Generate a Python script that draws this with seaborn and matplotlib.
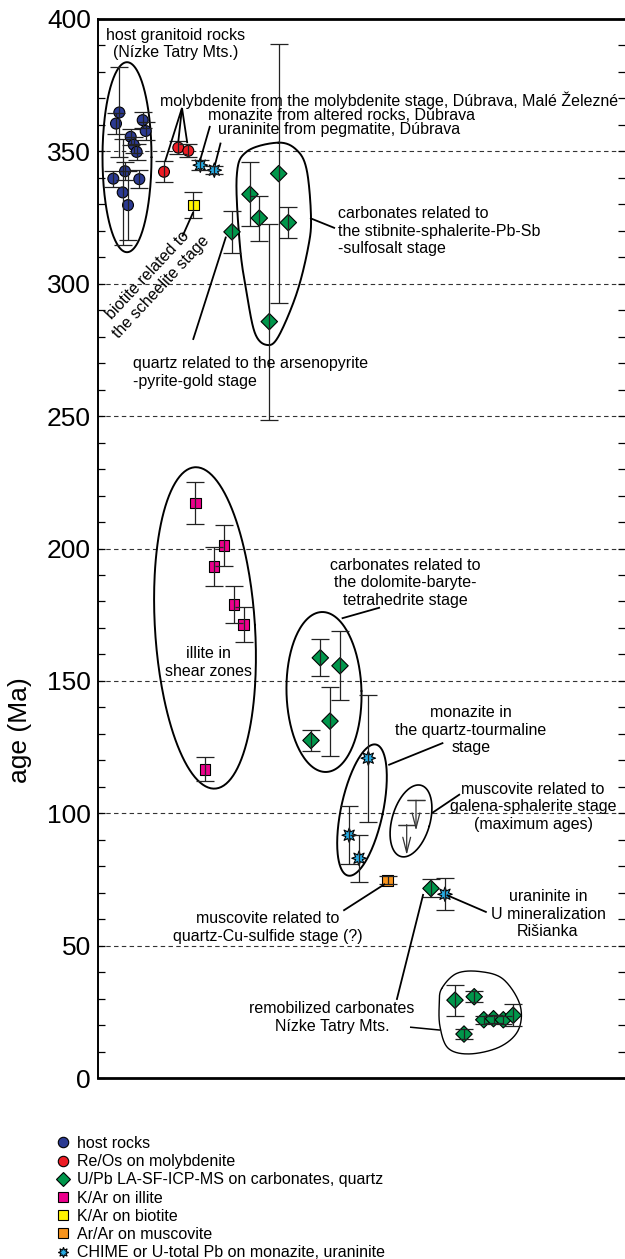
import numpy as np
import pandas as pd
import matplotlib
matplotlib.use("Agg")
import matplotlib.pyplot as plt
from matplotlib.patches import ArrowStyle
import seaborn as sns

# ---------------------------------------------------------------------------
# Ages (Ma) with uncertainties; *_x is the horizontal placement of each analysis
# ---------------------------------------------------------------------------
host_x = [15.3, 18.0, 21.3, 27.0, 24.7, 30.0, 32.7, 35.7, 38.7, 41.3, 44.7, 47.7]
host_age = [339.7, 360.5, 364.7, 342.5, 334.5, 329.7, 355.5, 352.5, 349.8, 339.5, 361.8, 357.7]
host_err = [3, 4, 17, 3.5, 20, 13, 3, 3, 3, 3.5, 3, 3.5]

reos_x = [66.0, 80.3, 90.3]
reos_age = [342.3, 351.4, 350.2]
reos_err = [4, 2.5, 2.5]

upb_x = [134, 152, 161.3, 180.7, 190.3, 171.3, 222.3, 242, 232, 213,
         333, 357, 376.2, 366, 385.8, 395.5, 405.3, 415.2]
upb_age = [319.6, 333.8, 324.8, 341.6, 323.1, 285.7, 158.7, 155.7, 134.8, 127.5,
           71.6, 29.4, 30.7, 16.6, 22.0, 22.4, 22.0, 23.7]
upb_err = [8, 12, 8.5, 49, 6, 37, 7, 13, 13, 4,
           3.4, 5.8, 2, 1.8, 1.5, 1.5, 1.5, 4.2]

illite_x = [97.3, 126, 116, 136, 145.7, 107]
illite_age = [217.2, 201.1, 193.1, 178.8, 171.3, 116.6]
illite_err = [8, 7.7, 7.3, 7, 6.5, 4.5]

biotite_x = [95.3]
biotite_age = [329.7]
biotite_err = [5]

arar_x = [289.7]
arar_age = [74.7]
arar_err = [1.5]

chime_x = [102.3, 116.3, 270.3, 251.2, 261, 347]
chime_age = [344.8, 342.9, 120.8, 91.7, 83.0, 69.4]
chime_err = [2, 1.5, 24, 11, 8.8, 6]

# muscovite maximum ages (galena-sphalerite stage)
musc_max_x = [318, 308.7]
musc_max_age = [104.9, 95.7]

methods = [
    "host rocks",
    "Re/Os on molybdenite",
    "U/Pb LA-SF-ICP-MS on carbonates, quartz",
    "K/Ar on illite",
    "K/Ar on biotite",
    "Ar/Ar on muscovite",
    "CHIME or U-total Pb on monazite, uraninite",
]
groups = [
    (host_x, host_age, host_err),
    (reos_x, reos_age, reos_err),
    (upb_x, upb_age, upb_err),
    (illite_x, illite_age, illite_err),
    (biotite_x, biotite_age, biotite_err),
    (arar_x, arar_age, arar_err),
    (chime_x, chime_age, chime_err),
]
df = pd.concat(
    [pd.DataFrame({"x": gx, "age": ga, "err": ge, "method": m})
     for m, (gx, ga, ge) in zip(methods, groups)],
    ignore_index=True,
)

palette = {
    methods[0]: "#2b3a92",
    methods[1]: "#ed1c24",
    methods[2]: "#00964b",
    methods[3]: "#ec008c",
    methods[4]: "#fff200",
    methods[5]: "#f7941d",
    methods[6]: "#27aae1",
}
markers = {
    methods[0]: "o",
    methods[1]: "o",
    methods[2]: "D",
    methods[3]: "s",
    methods[4]: "s",
    methods[5]: "s",
    methods[6]: (8, 1, 0),
}
marker_area = {
    methods[0]: 62,
    methods[1]: 62,
    methods[2]: 70,
    methods[3]: 60,
    methods[4]: 60,
    methods[5]: 60,
    methods[6]: 110,
}

sns.set_style("ticks")
plt.rcParams["font.family"] = ["Liberation Sans", "DejaVu Sans"]
plt.rcParams.update({"text.color": "black", "axes.labelcolor": "black",
                     "ytick.color": "black", "xtick.color": "black",
                     "axes.edgecolor": "black"})
FS = 11.5
LS = 1.22

fig = plt.figure(figsize=(6.25, 12.59), dpi=100)
ax = fig.add_axes([98 / 625, 1 - 1078 / 1259, 527 / 625, 1059 / 1259])
ax.set_xlim(0, 527)
ax.set_ylim(0, 400)

# horizontal reference lines
for g in range(50, 400, 50):
    ax.axhline(g, color="#333333", lw=0.8, ls=(0, (4, 3)), zorder=0)

sns.scatterplot(data=df, x="x", y="age", hue="method", style="method", size="method",
                hue_order=methods, style_order=methods, size_order=methods,
                palette=palette, markers=markers, sizes=marker_area,
                edgecolor="black", linewidth=0.8, ax=ax, zorder=2, legend=True)

ax.errorbar(df["x"], df["age"], yerr=df["err"], fmt="none", ecolor="#222222",
            elinewidth=0.9, capsize=6.5, capthick=0.9, zorder=3)

# maximum ages: cap at the age, open arrow pointing to younger ages
ax.errorbar(musc_max_x, musc_max_age, yerr=np.zeros(len(musc_max_x)), fmt="none",
            ecolor="#333333", capsize=6.5, capthick=0.9, zorder=3)
for mx, ma in zip(musc_max_x, musc_max_age):
    ax.annotate("", xy=(mx, ma - 11.5), xytext=(mx, ma),
                arrowprops=dict(arrowstyle=ArrowStyle("->", head_length=1.1, head_width=0.28),
                                color="#333333", lw=0.9, shrinkA=0, shrinkB=0),
                zorder=3)


# ---------------- grouping outlines (drawn in screen space) ----------------
def _to_px(xs, ys):
    return ax.transData.transform(np.column_stack([xs, ys]))


def _from_px(pts):
    return ax.transData.inverted().transform(pts)


def ellipse(cx, cy, w, h, angle=0.0, lw=1.4):
    c = ax.transData.transform((cx, cy))
    t = np.linspace(0, 2 * np.pi, 240)
    a = np.deg2rad(angle)
    ex, ey = w / 2 * np.cos(t), h / 2 * np.sin(t)
    X = c[0] + ex * np.cos(a) - ey * np.sin(a)
    Y = c[1] + ex * np.sin(a) + ey * np.cos(a)
    d = _from_px(np.column_stack([X, Y]))
    ax.plot(d[:, 0], d[:, 1], color="black", lw=lw, zorder=1.5)


def blob(xs, ys, lw=1.4):
    P = _to_px(xs, ys)
    n = len(P)
    segs = []
    t = np.linspace(0, 1, 24, endpoint=False)[:, None]
    for i in range(n):
        p0, p1, p2, p3 = P[i - 1], P[i], P[(i + 1) % n], P[(i + 2) % n]
        segs.append(0.5 * (2 * p1 + (-p0 + p2) * t
                           + (2 * p0 - 5 * p1 + 4 * p2 - p3) * t ** 2
                           + (-p0 + 3 * p1 - 3 * p2 + p3) * t ** 3))
    pts = np.vstack(segs + [segs[0][:1]])
    d = _from_px(pts)
    ax.plot(d[:, 0], d[:, 1], color="black", lw=lw, zorder=1.5)


ellipse(29, 347.8, 49, 190)                 # host granitoids
ellipse(107, 170.0, 100, 322, 3.6)          # illite
ellipse(226, 145.8, 75, 160, 1.5)           # dolomite-baryte-tetrahedrite
ellipse(264, 101.2, 42, 134, -12)           # monazite, quartz-tourmaline
ellipse(313, 97.1, 38, 74, -16, lw=1.2)     # muscovite max ages
blob([180.3, 198.7, 208.7, 213, 210.3, 198.7, 180.3, 168.7, 157, 148.7, 142, 138.7, 148.7],
     [353.3, 350.5, 343.0, 325.3, 314.0, 296.4, 280.0, 276.9, 281.3, 296.4, 314.0, 340.5, 349.9])
blob([343.7, 358.7, 382, 405.3, 422, 420.3, 402, 372, 350.3, 342, 341.3],
     [33.8, 39.5, 40.2, 37.3, 27.6, 18.1, 11.8, 9.1, 11.2, 19.4, 28.2], lw=1.0)

# ---------------- labels and leader lines ----------------
def label(x, y, s, ha="center", **kw):
    ax.text(x, y, s, ha=ha, va="center", fontsize=FS, linespacing=LS,
            multialignment=ha, zorder=4, **kw)


def leader(x0, y0, x1, y1, lw=1.3):
    ax.plot([x0, x1], [y0, y1], color="black", lw=lw, zorder=4,
            solid_capstyle="butt")


label(77.8, 390.5, "host granitoid rocks\n(Nízke Tatry Mts.)")
label(62, 369.4, "molybdenite from the molybdenite stage, Dúbrava, Malé Železné", ha="left")
label(110, 363.7, "monazite from altered rocks, Dúbrava", ha="left")
label(120.3, 358.1, "uraninite from pegmatite, Dúbrava", ha="left")
label(240, 319.9, "carbonates related to\nthe stibnite-sphalerite-Pb-Sb\n-sulfosalt stage", ha="left")
ax.text(56.5, 301, "biotite related to\nthe scheelite stage", rotation=47,
        rotation_mode="anchor", ha="center", va="center", multialignment="center",
        fontsize=FS, linespacing=LS, zorder=4)
label(35, 266.4, "quartz related to the arsenopyrite\n-pyrite-gold stage", ha="left")
label(110.3, 157, "illite in\nshear zones")
label(307, 187, "carbonates related to\nthe dolomite-baryte-\ntetrahedrite stage")
label(373, 131.4, "monazite in\nthe quartz-tourmaline\nstage")
label(435, 102.4, "muscovite related to\ngalena-sphalerite stage\n(maximum ages)")
label(170, 56.8, "muscovite related to\nquartz-Cu-sulfide stage (?)")
label(450, 61.9, "uraninite in\nU mineralization\nRišianka")
label(234, 22.8, "remobilized carbonates\nNízke Tatry Mts.")

for ex, ey in [(67, 346.1), (80.3, 353.7), (89.3, 353.1)]:
    leader(84, 366.4, ex, ey)
leader(112, 359.6, 102, 346.5)
leader(122.7, 353.3, 117, 344.9)
leader(212, 324.8, 237, 321)
leader(95.3, 327.1, 84.3, 317.8)
leader(128, 317.8, 95, 278.8)
leader(243.7, 173.6, 282, 177.7)
leader(290.3, 118.2, 345.3, 126.6)
leader(333.7, 100, 362, 107.2)
leader(245.3, 63.2, 287, 73.3)
leader(348.7, 69.1, 388.7, 62.6)
leader(298.7, 29.5, 325.3, 69.5)
leader(312, 19.2, 342, 18.1, lw=1.1)

# ---------------- axes styling ----------------
ax.set_xticks([])
ax.set_xlabel("")
ax.set_yticks(range(0, 401, 50))
ax.set_yticks(range(0, 401, 10), minor=True)
ax.tick_params(axis="y", which="both", direction="in", left=True, right=True,
               length=5, width=0.9, color="black")
ax.tick_params(axis="y", which="major", labelsize=19, pad=5, labelcolor="black")
ax.set_ylabel("age (Ma)", fontsize=19)
ax.yaxis.set_label_coords(-0.125, 0.3286)
for side in ["top", "bottom"]:
    ax.spines[side].set_linewidth(2.0)
ax.spines["left"].set_linewidth(1.4)
ax.spines["right"].set_visible(False)

handles, labels = ax.get_legend_handles_labels()
for h in handles:
    h.set_markersize(7.5)
    h.set_markeredgecolor("black")
    h.set_markeredgewidth(0.8)
ax.legend(handles, labels, loc="upper left", bbox_to_anchor=(55 / 625, 1 - 1136 / 1259),
          bbox_transform=fig.transFigure, frameon=False, fontsize=FS,
          handlelength=1.0, handletextpad=0.4, labelspacing=0.2,
          borderpad=0, borderaxespad=0)

fig.savefig("out.png", dpi=100)
